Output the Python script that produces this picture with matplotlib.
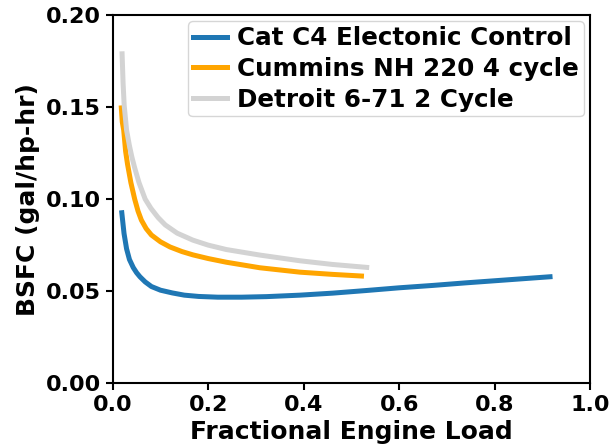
import matplotlib
matplotlib.use("Agg")
import matplotlib.pyplot as plt

# values
cat_load = [0.019, 0.0237, 0.029, 0.035, 0.043, 0.050, 0.057, 0.068, 0.081, 0.100, 0.125,
            0.150, 0.180, 0.220, 0.270, 0.322, 0.392, 0.461, 0.530, 0.600, 0.671, 0.740,
            0.820, 0.916]
cat_bsfc = [0.0926, 0.0813, 0.0730, 0.0672, 0.0628, 0.0600, 0.0578, 0.0550, 0.0525, 0.0505, 0.0490,
            0.0478, 0.0471, 0.0467, 0.0467, 0.0470, 0.0478, 0.0489, 0.0503, 0.0518, 0.0531, 0.0545,
            0.0560, 0.0578]

cummins_load = [0.018, 0.020, 0.023, 0.027, 0.031, 0.038, 0.046, 0.053, 0.060, 0.070, 0.081,
                0.100, 0.120, 0.145, 0.168, 0.200, 0.238, 0.308, 0.392, 0.460, 0.521]
cummins_bsfc = [0.1496, 0.1420, 0.1375, 0.1260, 0.1190, 0.1090, 0.1000, 0.0935, 0.0886, 0.0840, 0.0805,
                0.0768, 0.0740, 0.0715, 0.0697, 0.0677, 0.0657, 0.0627, 0.0603, 0.0591, 0.0582]

detroit_load = [0.0196, 0.0217, 0.024, 0.029, 0.035, 0.040, 0.046, 0.055, 0.068, 0.080,
                0.095, 0.110, 0.135, 0.168, 0.200, 0.238, 0.308, 0.392, 0.460, 0.532]
detroit_bsfc = [0.179, 0.163, 0.151, 0.1375, 0.1290, 0.1230, 0.1170, 0.1090, 0.1000, 0.0950,
                0.0900, 0.0860, 0.0815, 0.0777, 0.0750, 0.0726, 0.0696, 0.0665, 0.0645, 0.0629]

plt.rcParams["font.weight"] = "bold"
plt.rcParams["axes.labelweight"] = "bold"

fig = plt.figure(figsize=(6.16, 4.47), dpi=100)
ax = fig.add_axes([0.183, 0.143, 0.775, 0.823])

ax.plot(cat_load, cat_bsfc, color="#1f77b4", lw=3.6, label="Cat C4 Electonic Control")
ax.plot(cummins_load, cummins_bsfc, color="orange", lw=3.6, label="Cummins NH 220 4 cycle")
ax.plot(detroit_load, detroit_bsfc, color="lightgray", lw=3.6, label="Detroit 6-71 2 Cycle")

ax.set_xlim(0, 1.0)
ax.set_ylim(0, 0.20)
ax.set_xticks([0.0, 0.2, 0.4, 0.6, 0.8, 1.0])
ax.set_yticks([0.00, 0.05, 0.10, 0.15, 0.20])
ax.set_yticklabels(["0.00", "0.05", "0.10", "0.15", "0.20"])
ax.tick_params(labelsize=16, width=1.5, length=5)
for s in ax.spines.values():
    s.set_linewidth(1.5)

ax.set_xlabel("Fractional Engine Load", fontsize=18, labelpad=4)
ax.set_ylabel("BSFC (gal/hp-hr)", fontsize=18, labelpad=4)
ax.legend(loc="upper right", prop={"size": 17.7, "weight": "bold"},
          handlelength=1.4, handletextpad=0.4, borderpad=0.2,
          labelspacing=0.27, borderaxespad=0.25)

fig.savefig("out.png", dpi=100)
